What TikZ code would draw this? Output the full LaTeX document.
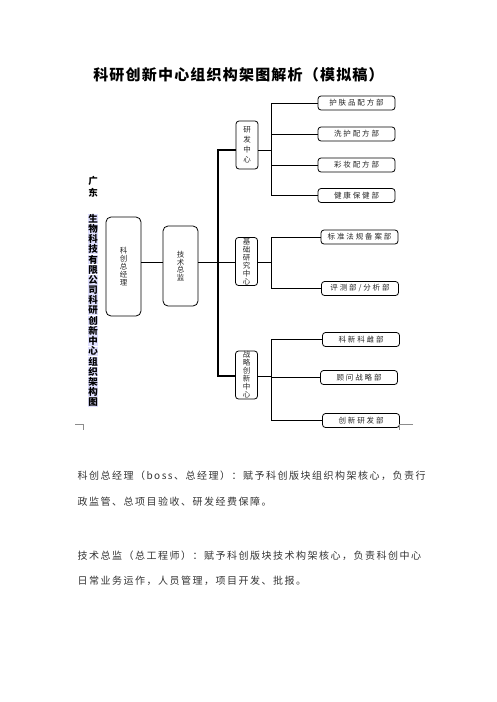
\documentclass[tikz,border=0pt]{standalone}
\usepackage{fontspec}
\setmainfont{Noto Sans CJK SC}
\newcommand\titlefont{\addfontfeatures{LetterSpace=8}\fontsize{15}{16}\selectfont\bfseries}
\newcommand\parafont{\addfontfeatures{LetterSpace=15}\fontsize{10}{11}\selectfont}
\newcommand\leaffont{\addfontfeatures{LetterSpace=25}\fontsize{7.5}{8}\selectfont}
\newcommand\sidefont{\fontsize{9.5}{10}\selectfont\bfseries}
\newcommand\stackfont[1]{\fontsize{7.5}{#1}\selectfont\lineskiplimit=-20pt\lineskip=0pt}
\begin{document}
\begin{tikzpicture}[x=1pt,y=-1pt,
  bigbox/.style={draw, rounded corners=5pt, line width=0.8pt, inner sep=0pt, minimum width=35pt, text=black!85, align=center, font=\stackfont{7.8}},
  midbox/.style={draw, rounded corners=3pt, line width=0.8pt, inner sep=0pt, minimum width=22pt, minimum height=48pt, text=black!85, align=center},
  leafbox/.style={draw, rounded corners=3pt, line width=0.8pt, inner sep=0pt, minimum width=77pt, minimum height=14pt, text=black!85, font=\leaffont},
  link/.style={line width=0.8pt},
  trunk/.style={line width=1.6pt},
  side/.style={font=\sidefont, inner sep=0.3pt},
  para/.style={anchor=west, font=\parafont, text=black!80},
  pagemark/.style={draw=black!45, line width=0.5pt}]
\useasboundingbox (0,0) rectangle (496,702);
\node[font=\titlefont] (title) at (238.5,75) {科研创新中心组织构架图解析（模拟稿）};
% left column
\node[side] (gd1) at (93,180.5) {广};
\node[side] (gd2) at (93,192.5) {东};
\foreach \c [count=\i from 0] in {生,物,科,技,有,限,公,司,科,研,创,新,中,心,组,织,架,构,图}
  \node[side, fill=blue!12] (s\i) at (93,218.6+10.2*\i) {\c};
% managers
\node[bigbox, minimum height=99pt] (gm) at (123.5,266.5) {科\\创\\总\\经\\理};
\node[bigbox, minimum height=80pt] (cto) at (180.5,266) {技\\术\\总\\监};
% centres
\node[midbox, font=\stackfont{10}] (yf) at (247,145) {研\\发\\中\\心};
\node[midbox, font=\stackfont{8}] (jc) at (246.5,261.5) {基\\础\\研\\究\\中\\心};
\node[midbox, font=\stackfont{8}] (zl) at (246.5,375) {战\\略\\创\\新\\中\\心};
% departments
\node[leafbox] (yf1) at (356.5,103) {护肤品配方部};
\node[leafbox] (yf2) at (356.5,134) {洗护配方部};
\node[leafbox] (yf3) at (356.5,165) {彩妆配方部};
\node[leafbox] (yf4) at (356.5,195.5) {健康保健部};
\node[leafbox] (jc1) at (359.5,237) {标准法规备案部};
\node[leafbox] (jc2) at (360,288.5) {评测部/分析部};
\node[leafbox] (zl1) at (361,339.5) {科新科雌部};
\node[leafbox] (zl2) at (359,377.5) {顾问战略部};
\node[leafbox] (zl3) at (361,420.5) {创新研发部};
% connectors
\coordinate (ttop) at (218,150);
\coordinate (tmid) at (218,262);
\coordinate (tbot) at (218,376);
\coordinate (b1) at (271,150);
\coordinate (b2) at (271,262);
\coordinate (b3) at (271,376);
\draw[link, line width=0.6pt] (gm.east |- tmid) -- (cto.west |- tmid);
\draw[link, line width=0.6pt] (cto.east |- tmid) -- (tmid);
\draw[trunk] (yf.west |- ttop) -- (ttop) -- (tbot) -- (zl.west |- tbot);
\draw[link, line width=0.6pt] (tmid) -- (jc.west |- tmid);
\draw[link] (yf.east |- b1) -- (b1);
\draw[link] (jc.east |- b2) -- (b2);
\draw[link] (zl.east |- b3) -- (b3);
\foreach \n in {yf1,yf2,yf3,yf4} \draw[link] (b1) |- (\n.west);
\foreach \n in {jc1,jc2} \draw[link] (b2) |- (\n.west);
\foreach \n in {zl1,zl2,zl3} \draw[link] (b3) |- (\n.west);
% page marks
\draw[pagemark] (75,424) -- (83,424) -- (83,430);
\draw[pagemark] (413,424) -- (399,424) -- (399,430);
% notes
\node[para] (p1) at (74,476) {科创总经理（boss、总经理）：赋予科创版块组织构架核心，负责行};
\node[para] (p2) at (74,502) {政监管、总项目验收、研发经费保障。};
\node[para] (p3) at (74,556) {技术总监（总工程师）：赋予科创版块技术构架核心，负责科创中心};
\node[para] (p4) at (74,581) {日常业务运作，人员管理，项目开发、批报。};
\end{tikzpicture}
\end{document}
